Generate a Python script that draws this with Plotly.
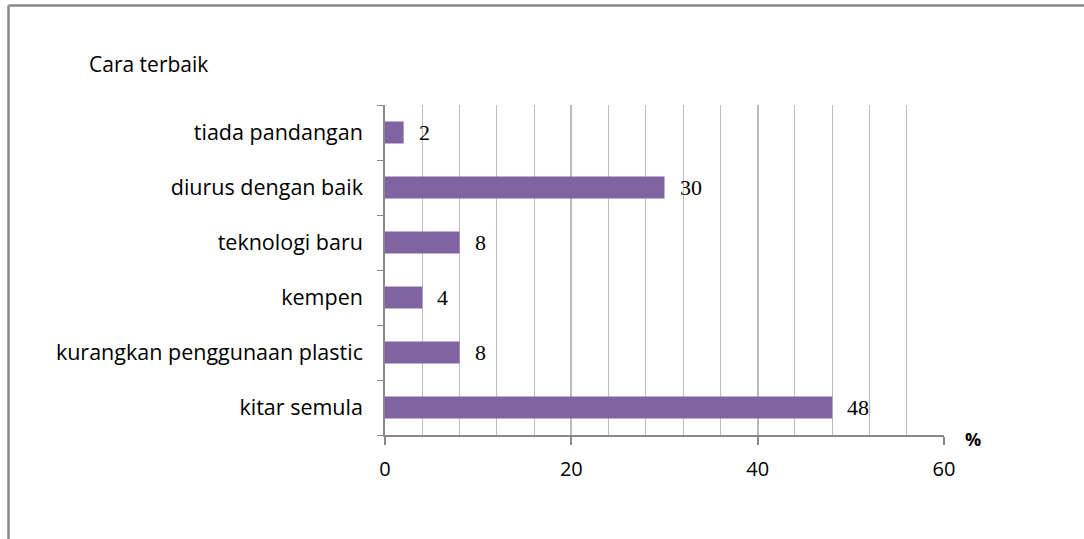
import plotly.graph_objects as go

categories = ["kitar semula", "kurangkan penggunaan plastic", "kempen",
              "teknologi baru", "diurus dengan baik", "tiada pandangan"]
values = [48, 8, 4, 8, 30, 2]
x_ticks = [0, 20, 40, 60]
title_text = "Cara terbaik"
unit_text = "%"

W, H = 1084, 539
L, R, T, B = 385, 140, 105, 104
pw, ph = W - L - R, H - T - B

SANS = "Open Sans"


def px(x):
    return (x - L) / pw


def py(y):
    return (H - B - y) / ph


fig = go.Figure(go.Bar(
    y=categories, x=values, orientation="h",
    marker=dict(color="#8064A2", line=dict(width=0)),
    width=0.4,
))

for c, v in zip(categories, values):
    fig.add_annotation(x=v, y=c, text=str(v), showarrow=False,
                       xanchor="left", xshift=13,
                       font=dict(family="Liberation Serif", size=22, color="#000"))

fig.add_annotation(xref="paper", yref="paper", x=px(87), y=py(64),
                   text=title_text, showarrow=False, xanchor="left", yanchor="middle",
                   font=dict(family=SANS, size=21, color="#000"))
fig.add_annotation(xref="paper", yref="paper", x=px(963), y=py(439),
                   text="<b>" + unit_text + "</b>", showarrow=False, xanchor="left",
                   yanchor="middle",
                   font=dict(family=SANS, size=18, color="#000"))

# outer frame (top and left edges visible)
fig.add_shape(type="line", xref="paper", yref="paper",
              x0=px(8.5), y0=py(5.5), x1=px(1090), y1=py(5.5),
              line=dict(color="#888888", width=2.5))
fig.add_shape(type="line", xref="paper", yref="paper",
              x0=px(8.5), y0=py(5.5), x1=px(8.5), y1=py(545),
              line=dict(color="#888888", width=2.5))

fig.update_layout(
    width=W, height=H,
    margin=dict(l=L, r=R, t=T, b=B, autoexpand=False),
    paper_bgcolor="white", plot_bgcolor="white",
    showlegend=False, bargap=0.6,
    font=dict(family=SANS, size=20, color="#000"),
)
fig.update_xaxes(
    range=[0, 60], tickvals=x_ticks, ticks="outside", ticklen=8, tickcolor="#888888",
    tickwidth=1.5, showline=True, linecolor="#888888", linewidth=2,
    showgrid=True, gridcolor="#BBBBBB", gridwidth=1.5,
    minor=dict(dtick=4, showgrid=True, gridcolor="#BBBBBB", gridwidth=1, ticks=""),
    zeroline=False, ticklabelstandoff=7,
    tickfont=dict(family=SANS, size=20, color="#000"),
)
fig.update_yaxes(
    categoryorder="array", categoryarray=categories,
    ticks="outside", tickson="boundaries", ticklen=6, tickcolor="#888888",
    showline=True, linecolor="#888888", linewidth=1.5,
    showgrid=False, zeroline=False, ticklabelstandoff=16,
    tickfont=dict(family=SANS, size=21.5, color="#000"),
)

fig.write_html("out.html", config={"displayModeBar": False},
               post_script="document.body.style.margin='0';")
